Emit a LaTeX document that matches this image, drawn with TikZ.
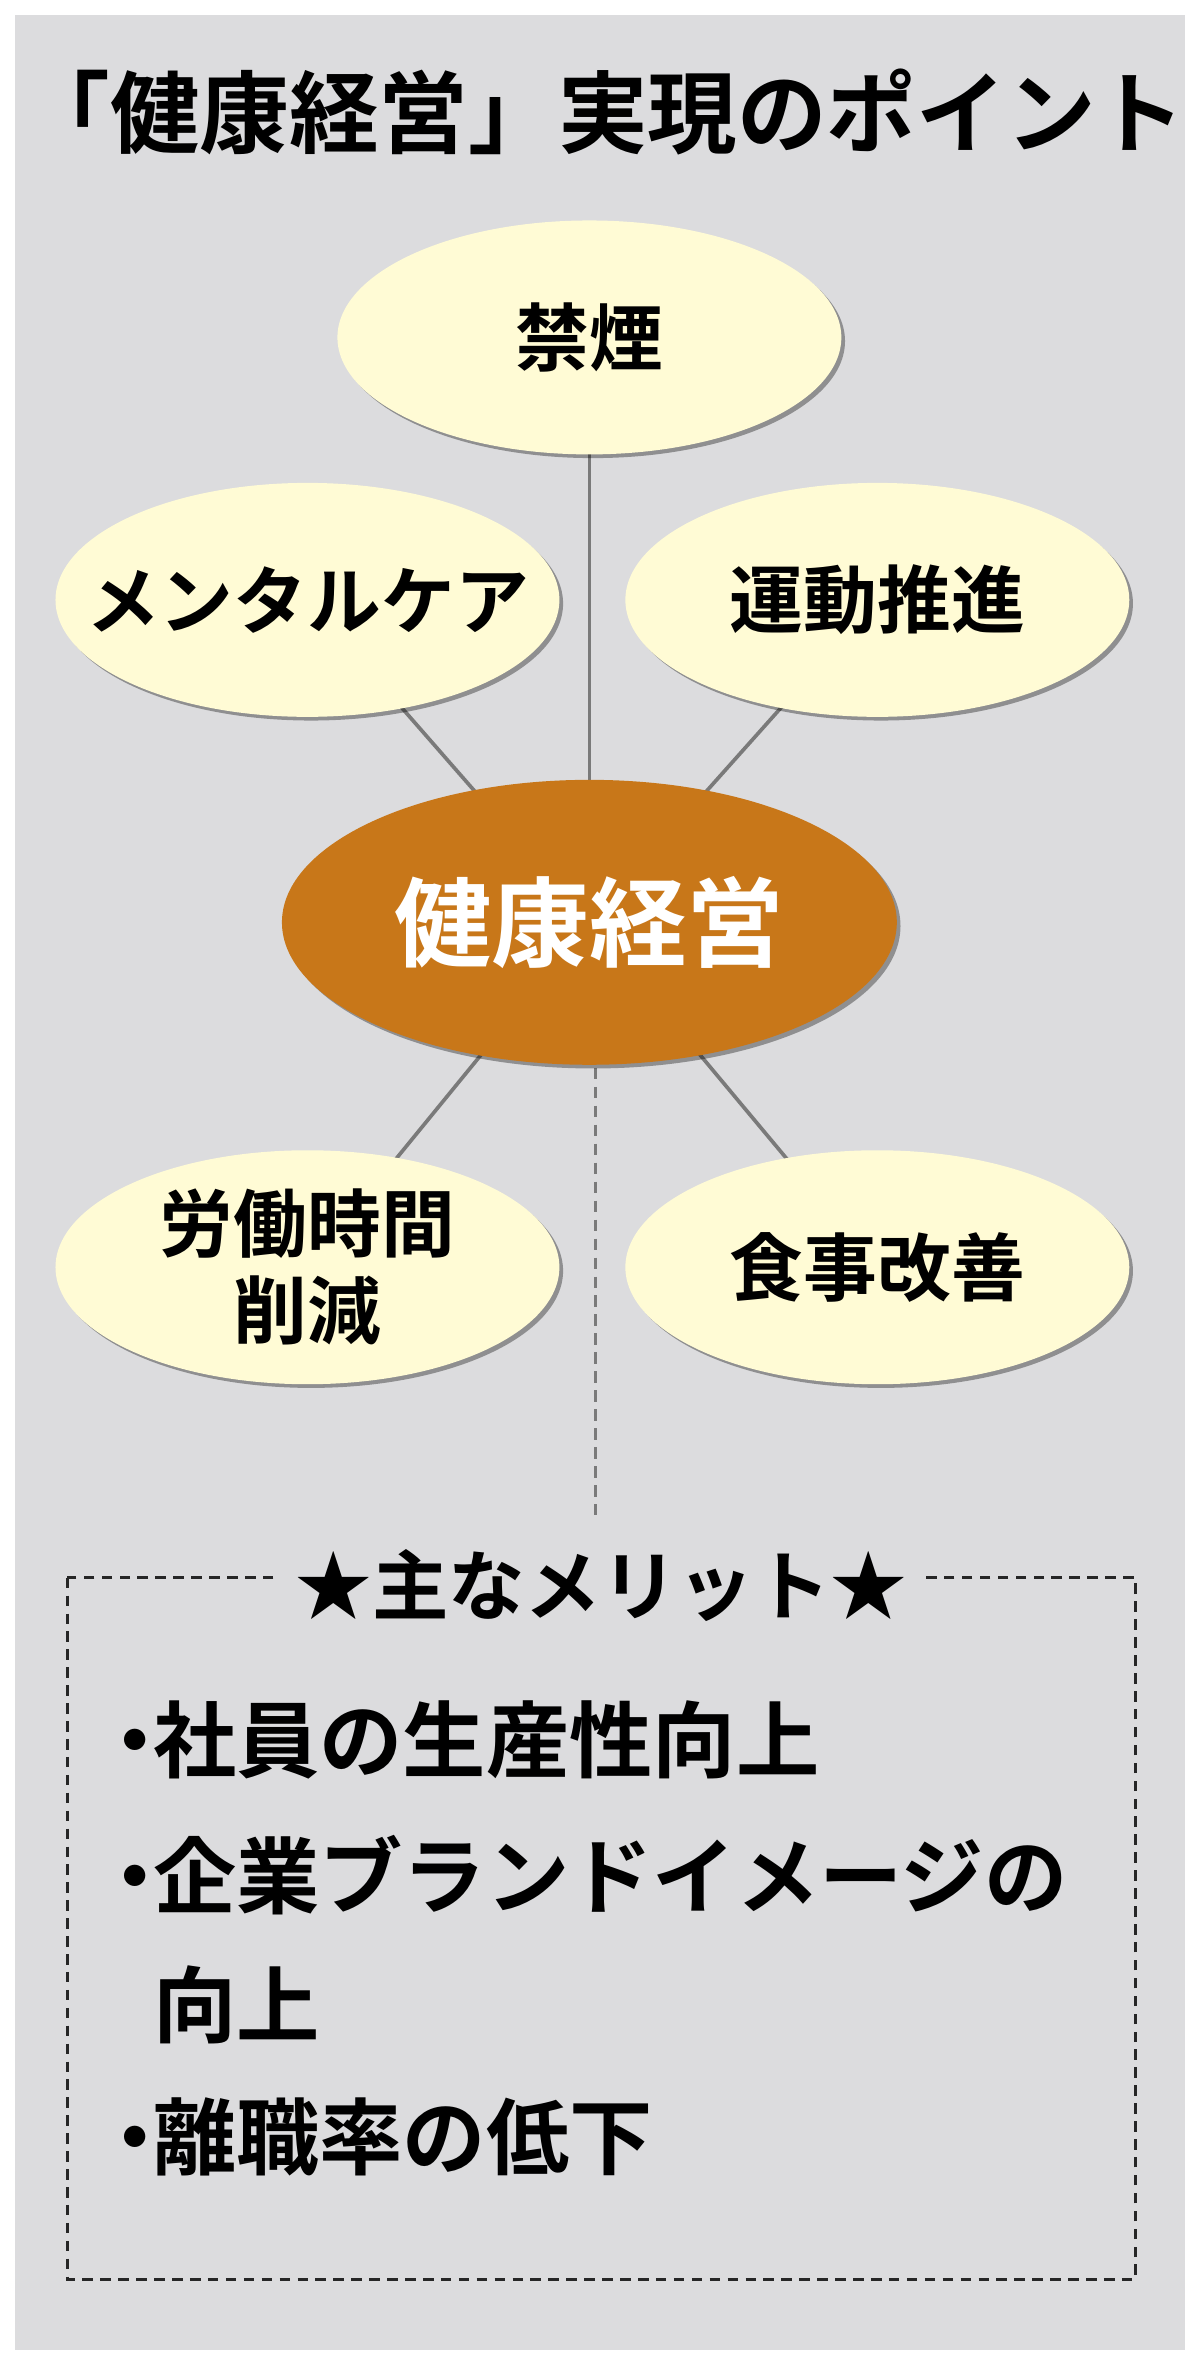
\documentclass[tikz,border=0pt]{standalone}
\usepackage{fontspec}
\setmainfont{Noto Sans CJK JP Bold}
\usetikzlibrary{shapes.geometric,shadows}
\definecolor{bg}{HTML}{DCDCDE}
\definecolor{pale}{HTML}{FFFBD5}
\definecolor{orng}{HTML}{C87719}
\definecolor{ln}{HTML}{7A7A7A}
\newcommand{\zw}[1]{\makebox[0pt]{#1}}
\begin{document}
\begin{tikzpicture}[x=1mm,y=-1mm,
  bubble/.style={ellipse,draw=none,fill=pale,minimum width=336mm,minimum height=156mm,inner sep=0,
    align=center,font=\fontsize{140}{165}\selectfont,
    drop shadow={shadow xshift=7pt,shadow yshift=-7pt,opacity=0.35,fill=black}},
  conn/.style={draw=ln,line width=7pt},
  item/.style={anchor=west,inner sep=0,font=\fontsize{158}{158}\selectfont}]
\fill[white] (0,0) rectangle (800,1577);
\fill[bg] (10,10) rectangle (790,1567);
\useasboundingbox (0,0) rectangle (800,1577);
\node[inner sep=0,font=\fontsize{170}{170}\selectfont] (title) at (402,75) {「健康経営」実現のポイント};
\coordinate (c0) at (393,615);
\coordinate (k0) at (393,225);
\coordinate (m0) at (205,400);
\coordinate (u0) at (585,400);
\coordinate (r0) at (205,845);
\coordinate (s0) at (585,845);
\coordinate (dend) at (397,1010);
\draw[conn] (k0) -- (c0);
\draw[conn] (m0) -- (c0);
\draw[conn] (u0) -- (c0);
\draw[conn] (r0) -- (c0);
\draw[conn] (s0) -- (c0);
\draw[draw=ln,line width=7pt,dash pattern=on 22pt off 14pt] (397,712) -- (dend);
\node[bubble] (kin) at (k0) {\zw{禁煙}};
\node[bubble] (men) at (m0) {\zw{メンタルケア}};
\node[bubble] (und) at (u0) {\zw{運動推進}};
\node[bubble] (rou) at (r0) {\zw{労働時間}\\\zw{削減}};
\node[bubble] (shk) at (s0) {\zw{食事改善}};
\node[ellipse,fill=orng,minimum width=410mm,minimum height=190mm,inner sep=0,text=white,
  font=\fontsize{185}{185}\selectfont,
  drop shadow={shadow xshift=7pt,shadow yshift=-7pt,opacity=0.35,fill=black}] (ctr) at (c0) {\zw{健康経営}};
\draw[black!85,line width=5pt,dash pattern=on 20pt off 14pt] (45,1052) rectangle (757,1520);
\node[fill=bg,inner xsep=10mm,inner ysep=2mm,font=\fontsize{145}{145}\selectfont] (mer) at (401,1057) {★主なメリット★};
\node[item] (i1) at (78,1160) {\makebox[24mm][c]{・}社員の生産性向上};
\node[item] (i2) at (78,1250) {\makebox[24mm][c]{・}企業ブランドイメージの};
\node[item] (i3) at (102,1337) {向上};
\node[item] (i4) at (78,1425) {\makebox[24mm][c]{・}離職率の低下};
\end{tikzpicture}
\end{document}
